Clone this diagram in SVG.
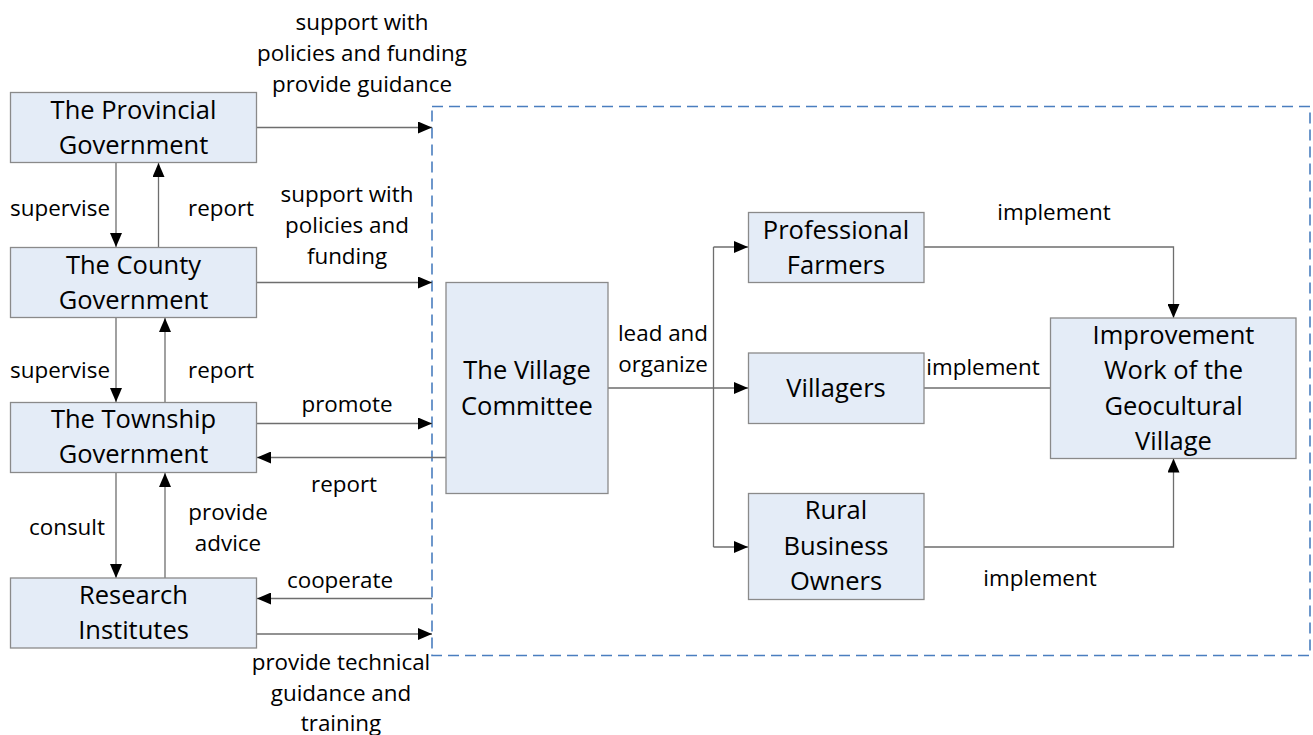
<svg xmlns="http://www.w3.org/2000/svg" width="1313" height="735" viewBox="0 0 1313 735">
  <style>
    .box { fill: #e4ecf7; stroke: #8a8a8a; stroke-width: 1.3; }
    .nt { font-family: "Open Sans", "Noto Sans", sans-serif; font-size: 25.5px; fill: #000; text-anchor: middle; }
    .lb { font-family: "Open Sans", "Noto Sans", sans-serif; font-size: 22.4px; fill: #000; text-anchor: middle; }
    .ln { fill: none; stroke: #6e6e6e; stroke-width: 1.3; }
    .arr { marker-end: url(#head); }
    .scope { fill: none; stroke: #4a7ebf; stroke-width: 1.6; stroke-dasharray: 11 6; }
  </style>
  <defs>
    <marker id="head" viewBox="0 0 14 12" refX="14" refY="6" markerWidth="14" markerHeight="12" orient="auto" markerUnits="userSpaceOnUse">
      <path d="M0 0L14 6L0 12z" fill="#000"/>
    </marker>
  </defs>
  <rect width="1313" height="735" fill="#fff"/>

  <!-- village-level scope -->
  <rect class="scope" x="432" y="106.5" width="878" height="549"/>

  <g id="connectors">
    <path class="ln arr" d="M256.5 127.5H432"/>
    <path class="ln arr" d="M256.5 282.5H432"/>
    <path class="ln arr" d="M256.5 423.5H432"/>
    <path class="ln arr" d="M446 457.5H257"/>
    <path class="ln arr" d="M432 598.5H257"/>
    <path class="ln arr" d="M256.5 634H432"/>
    <path class="ln arr" d="M116 162.5V247"/>
    <path class="ln arr" d="M158.5 247V163"/>
    <path class="ln arr" d="M116 317.5V402"/>
    <path class="ln arr" d="M165 402V318"/>
    <path class="ln arr" d="M116 472.5V578"/>
    <path class="ln arr" d="M165 578V473"/>
    <path class="ln" d="M608 388H713.5M713.5 247V547"/>
    <path class="ln arr" d="M713.5 247H748"/>
    <path class="ln arr" d="M713.5 388H748"/>
    <path class="ln arr" d="M713.5 547H748"/>
    <path class="ln arr" d="M924 247H1173.5V318"/>
    <path class="ln" d="M924 388H1050"/>
    <path class="ln arr" d="M924 547H1173.5V458.5"/>
  </g>

  <g id="labels">
    <text class="lb" x="362" y="30">support with</text>
    <text class="lb" x="362" y="61">policies and funding</text>
    <text class="lb" x="362" y="92">provide guidance</text>
    <text class="lb" x="60" y="216">supervise</text>
    <text class="lb" x="221" y="216">report</text>
    <text class="lb" x="347" y="202">support with</text>
    <text class="lb" x="347" y="233">policies and</text>
    <text class="lb" x="347" y="264">funding</text>
    <text class="lb" x="60" y="378">supervise</text>
    <text class="lb" x="221" y="378">report</text>
    <text class="lb" x="347" y="412">promote</text>
    <text class="lb" x="344" y="492">report</text>
    <text class="lb" x="67" y="535">consult</text>
    <text class="lb" x="228" y="520">provide</text>
    <text class="lb" x="228" y="551">advice</text>
    <text class="lb" x="340" y="588">cooperate</text>
    <text class="lb" x="341" y="670">provide technical</text>
    <text class="lb" x="341" y="701">guidance and</text>
    <text class="lb" x="341" y="731">training</text>
    <text class="lb" x="663" y="341">lead and</text>
    <text class="lb" x="663" y="372">organize</text>
    <text class="lb" x="1054" y="220">implement</text>
    <text class="lb" x="983" y="375">implement</text>
    <text class="lb" x="1040" y="586">implement</text>
  </g>

  <g id="provincial">
    <rect class="box" x="10.5" y="92.5" width="246" height="70"/>
    <text class="nt" x="133.5" y="119">The Provincial</text>
    <text class="nt" x="133.5" y="154">Government</text>
  </g>
  <g id="county">
    <rect class="box" x="10.5" y="247.5" width="246" height="70"/>
    <text class="nt" x="133.5" y="274">The County</text>
    <text class="nt" x="133.5" y="309">Government</text>
  </g>
  <g id="township">
    <rect class="box" x="10.5" y="402.5" width="246" height="70"/>
    <text class="nt" x="133.5" y="428">The Township</text>
    <text class="nt" x="133.5" y="463">Government</text>
  </g>
  <g id="research">
    <rect class="box" x="10.5" y="578" width="246" height="70"/>
    <text class="nt" x="133.5" y="603.5">Research</text>
    <text class="nt" x="133.5" y="638.5">Institutes</text>
  </g>
  <g id="village-committee">
    <rect class="box" x="446" y="282.5" width="162" height="211"/>
    <text class="nt" x="527" y="378.5">The Village</text>
    <text class="nt" x="527" y="414.5">Committee</text>
  </g>
  <g id="professional-farmers">
    <rect class="box" x="748.5" y="212.5" width="175.5" height="70"/>
    <text class="nt" x="836" y="238.5">Professional</text>
    <text class="nt" x="836" y="273.5">Farmers</text>
  </g>
  <g id="villagers">
    <rect class="box" x="748.5" y="353" width="175.5" height="70.5"/>
    <text class="nt" x="836" y="397">Villagers</text>
  </g>
  <g id="rural-business-owners">
    <rect class="box" x="748.5" y="493.5" width="175.5" height="106"/>
    <text class="nt" x="836" y="518.5">Rural</text>
    <text class="nt" x="836" y="554.5">Business</text>
    <text class="nt" x="836" y="590">Owners</text>
  </g>
  <g id="improvement-work">
    <rect class="box" x="1050.5" y="318" width="245.5" height="140.5"/>
    <text class="nt" x="1173.5" y="344">Improvement</text>
    <text class="nt" x="1173.5" y="379">Work of the</text>
    <text class="nt" x="1173.5" y="415">Geocultural</text>
    <text class="nt" x="1173.5" y="450">Village</text>
  </g>
</svg>
